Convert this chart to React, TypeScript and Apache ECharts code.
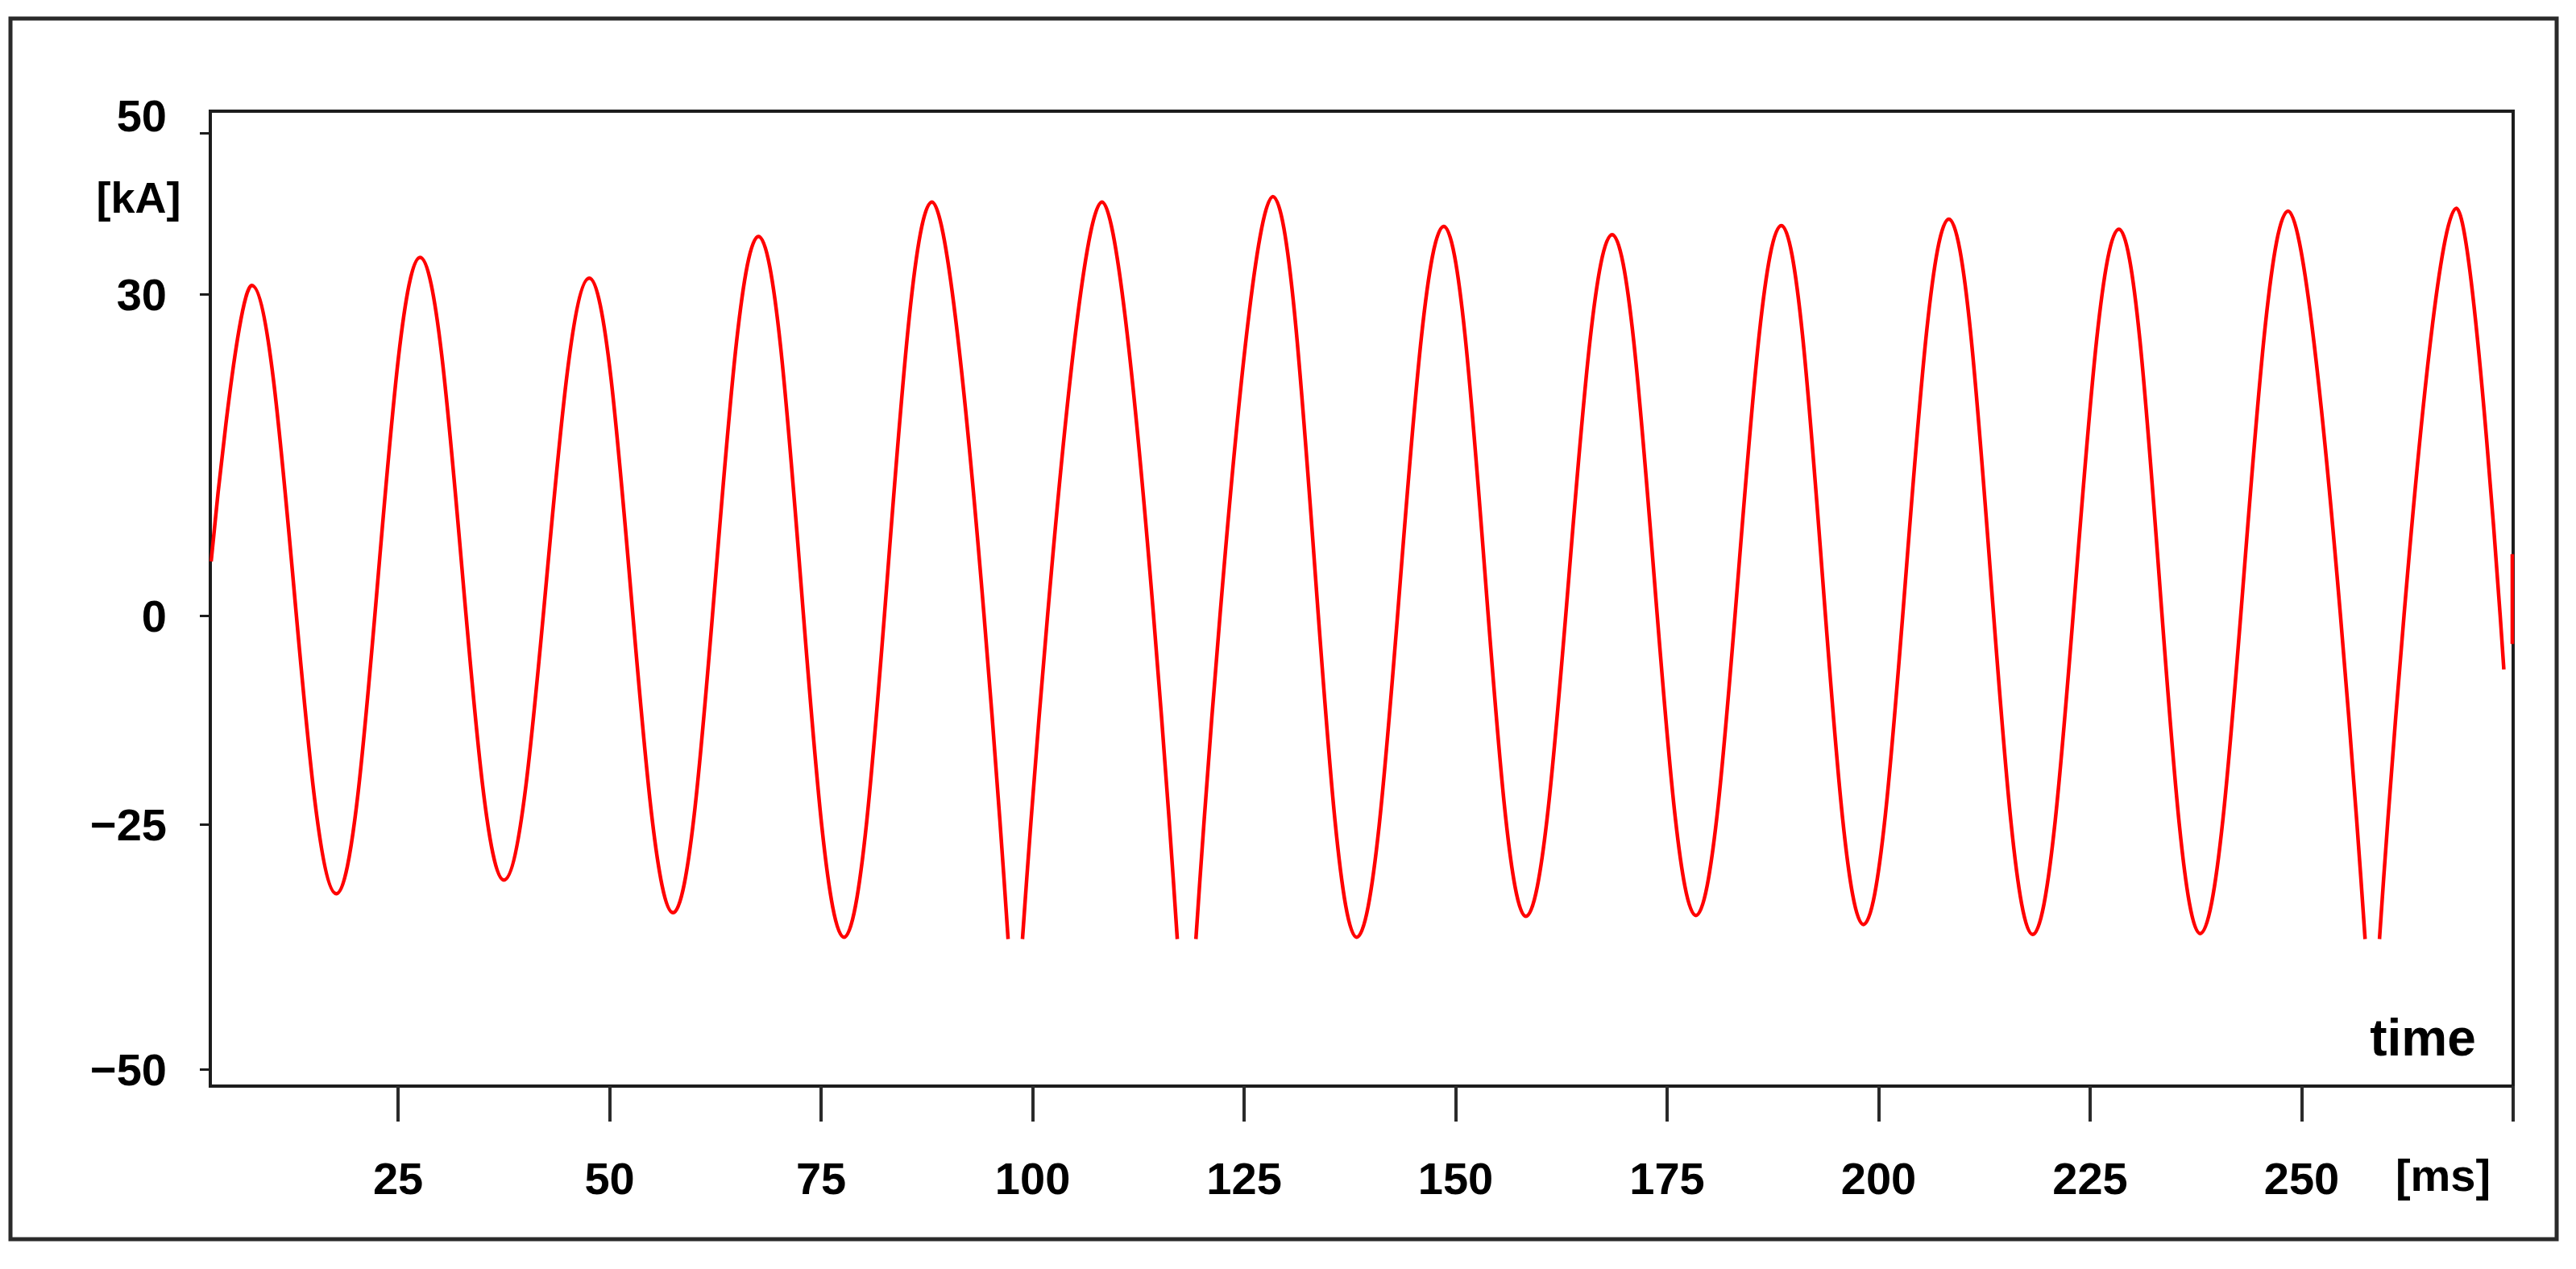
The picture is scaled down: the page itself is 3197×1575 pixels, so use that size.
import React, { useEffect, useRef } from 'react';
import * as echarts from 'echarts';

// Sample times (ms) of the waveform's peaks, troughs, start/end and clipped edges
const timeMs = [
  2.9, 7.7, 17.7, 27.6, 37.5, 47.6, 57.5, 67.6, 77.7, 88.1,
  97.1, 97.95, 98.8, 108.2, 117.1, 118.2, 119.3, 128.4, 138.3, 148.6,
  158.3, 168.5, 178.4, 188.5, 198.2, 208.3, 218.2, 228.4, 238.0, 248.4,
  257.5, 258.3, 259.2, 268.3, 273.9, 274.4, 274.9, 274.9,
];
// Current values (kA, axis units); null = gap in the trace
const currentKA: (number | null)[] = [
  6.0, 36.4, -30.6, 39.5, -29.1, 37.2, -32.7, 41.8, -35.4, 45.6,
  -35.6, null, -35.6, 45.6, -35.6, null, -35.6, 46.2, -35.4, 42.9,
  -33.1, 42.0, -33.0, 43.0, -34.0, 43.7, -35.1, 42.6, -35.0, 44.6,
  -35.6, null, -35.6, 44.9, -5.9, null, 6.8, -3.1,
];

const xTickValues = [25, 50, 75, 100, 125, 150, 175, 200, 225, 250, 275];
const xLabelValues = [25, 50, 75, 100, 125, 150, 175, 200, 225, 250];
const yTickValues = [53.2, 35.4, 0, -23.0, -50.0];
const yTickLabels = ['50', '30', '0', '\u221225', '\u221250'];
const yUnitLabel = '[kA]';
const xUnitLabel = '[ms]';
const xAxisTitle = 'time';

const FONT = "'Liberation Sans', Arial, sans-serif";

export default function App() {
  const ref = useRef<HTMLDivElement>(null);
  useEffect(() => {
    if (!ref.current) return;
    const chart = echarts.init(ref.current, null, { renderer: 'svg' });
    const data = timeMs.map((t, i) => [t, currentKA[i] === null ? '-' : currentKA[i]]);
    const labelStyle = { fontFamily: FONT, fontWeight: 'bold' as const, fontSize: 56, color: '#000' };
    chart.setOption({
      animation: false,
      backgroundColor: '#ffffff',
      grid: {
        left: 261, top: 138, right: 78, bottom: 227,
        show: true, borderColor: '#1c1c1c', borderWidth: 4, backgroundColor: 'transparent',
      },
      xAxis: {
        type: 'value', min: 2.8, max: 275,
        axisLine: { show: false, onZero: false },
        splitLine: { show: false },
        axisTick: {
          show: true, customValues: xTickValues, length: 44, inside: false,
          lineStyle: { color: '#2a2a2a', width: 4 },
        },
        axisLabel: {
          customValues: xLabelValues, margin: 86, ...labelStyle,
        },
      },
      yAxis: {
        type: 'value', min: -51.8, max: 55.6,
        axisLine: { show: false, onZero: false },
        splitLine: { show: false },
        axisTick: {
          show: true, customValues: yTickValues, length: 13,
          lineStyle: { color: '#1c1c1c', width: 3 },
        },
        axisLabel: {
          customValues: yTickValues, margin: 54, ...labelStyle,
          formatter: (v: number) => {
            let best = 0;
            for (let i = 1; i < yTickValues.length; i++) {
              if (Math.abs(yTickValues[i] - v) < Math.abs(yTickValues[best] - v)) best = i;
            }
            return best === 0 ? `{up|${yTickLabels[best]}}` : yTickLabels[best];
          },
          rich: {
            up: { ...labelStyle, padding: [0, 0, 44, 0] },
          },
        },
      },
      series: [
        {
          type: 'line',
          data,
          showSymbol: false,
          smooth: 0.36,
          smoothMonotone: 'x',
          connectNulls: false,
          lineStyle: { color: '#ff0000', width: 4.5 },
        },
      ],
      graphic: [
        {
          type: 'rect', silent: true,
          shape: { x: 13, y: 23, width: 3160, height: 1515 },
          style: { fill: 'none', stroke: '#2a2a2a', lineWidth: 5 },
        },
        {
          type: 'text', x: 172, y: 245,
          style: { text: yUnitLabel, fontFamily: FONT, fontWeight: 'bold', fontSize: 54, fill: '#000', align: 'center', verticalAlign: 'middle' },
        },
        {
          type: 'text', x: 3032, y: 1458,
          style: { text: xUnitLabel, fontFamily: FONT, fontWeight: 'bold', fontSize: 56, fill: '#000', align: 'center', verticalAlign: 'middle' },
        },
        {
          type: 'text', x: 3007, y: 1288,
          style: { text: xAxisTitle, fontFamily: FONT, fontWeight: 'bold', fontSize: 64, fill: '#000', align: 'center', verticalAlign: 'middle' },
        },
      ],
    });
    return () => chart.dispose();
  }, []);
  return (
    <div
      ref={ref}
      style={{ position: 'fixed', left: 0, top: 0, width: 3197, height: 1575, background: '#fff' }}
    />
  );
}
